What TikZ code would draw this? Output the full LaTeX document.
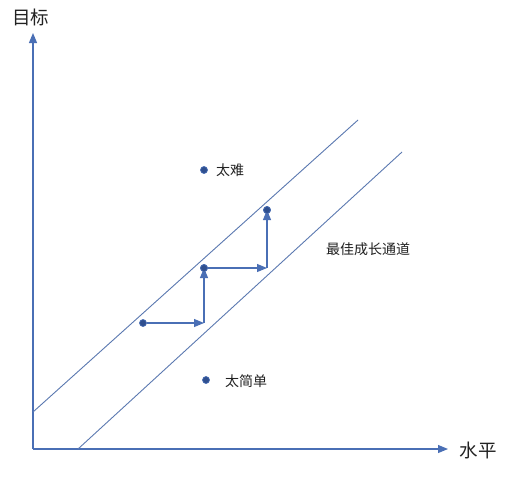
\documentclass[tikz,border=0pt]{standalone}
\usepackage{fontspec}
\setmainfont{Noto Sans CJK SC}
\usetikzlibrary{arrows.meta}
\definecolor{axisblue}{HTML}{4A6FB5}
\definecolor{linegray}{HTML}{5A78B0}
\definecolor{dotblue}{HTML}{2F4F8F}
\definecolor{txt}{HTML}{222222}
\tikzset{
  axis/.style={draw=axisblue, line width=1.1pt, -{Triangle[length=10pt,width=8pt]}},
  chan/.style={draw=linegray, line width=0.9pt},
  steparrow/.style={draw=axisblue, line width=1.1pt, -{Triangle[length=10pt,width=8pt]}},
  dotnode/.style={circle, fill=dotblue, draw=axisblue, line width=0.7pt, inner sep=0pt, minimum size=7pt},
  lbl/.style={text=txt, font=\fontsize{14pt}{16pt}\selectfont, inner sep=0pt},
  axlbl/.style={text=txt, font=\fontsize{18.5pt}{20pt}\selectfont, inner sep=0pt}
}
\begin{document}
\begin{tikzpicture}[x=1pt,y=-1pt]
\useasboundingbox[fill=white] (0,0) rectangle (513,477);
\coordinate (O) at (33,449);
\coordinate (ytop) at (33,33);
\coordinate (xend) at (448,449);
\draw[axis] (O) -- (ytop);
\draw[axis] (O) -- (xend);
\node[axlbl] (ylab) at (31,17) {目标};
\node[axlbl] (xlab) at (478,450) {水平};
\coordinate (u1) at (33,412);
\coordinate (u2) at (358,120);
\coordinate (l1) at (78,449);
\coordinate (l2) at (402,152);
\draw[chan] (u1) -- (u2);
\draw[chan] (l1) -- (l2);
\coordinate (c1) at (204,323);
\coordinate (c2) at (267,268);
\node[dotnode] (p1) at (143,323) {};
\node[dotnode] (p2) at (204,268) {};
\node[dotnode] (p3) at (267,210) {};
\draw[steparrow] (p1) -- (c1);
\draw[steparrow] (c1) -- (p2.center);
\draw[steparrow] (p2) -- (c2);
\draw[steparrow] (c2) -- (p3.center);
\node[dotnode] (p2b) at (204,268) {};
\node[dotnode] (p3b) at (267,210) {};
\node[dotnode] (hard) at (204,170) {};
\node[lbl, anchor=west] (hardlab) at (216,170) {太难};
\node[dotnode] (easy) at (206,380) {};
\node[lbl, anchor=west] (easylab) at (225,381) {太简单};
\node[lbl] (chanlab) at (368,249) {最佳成长通道};
\end{tikzpicture}
\end{document}
